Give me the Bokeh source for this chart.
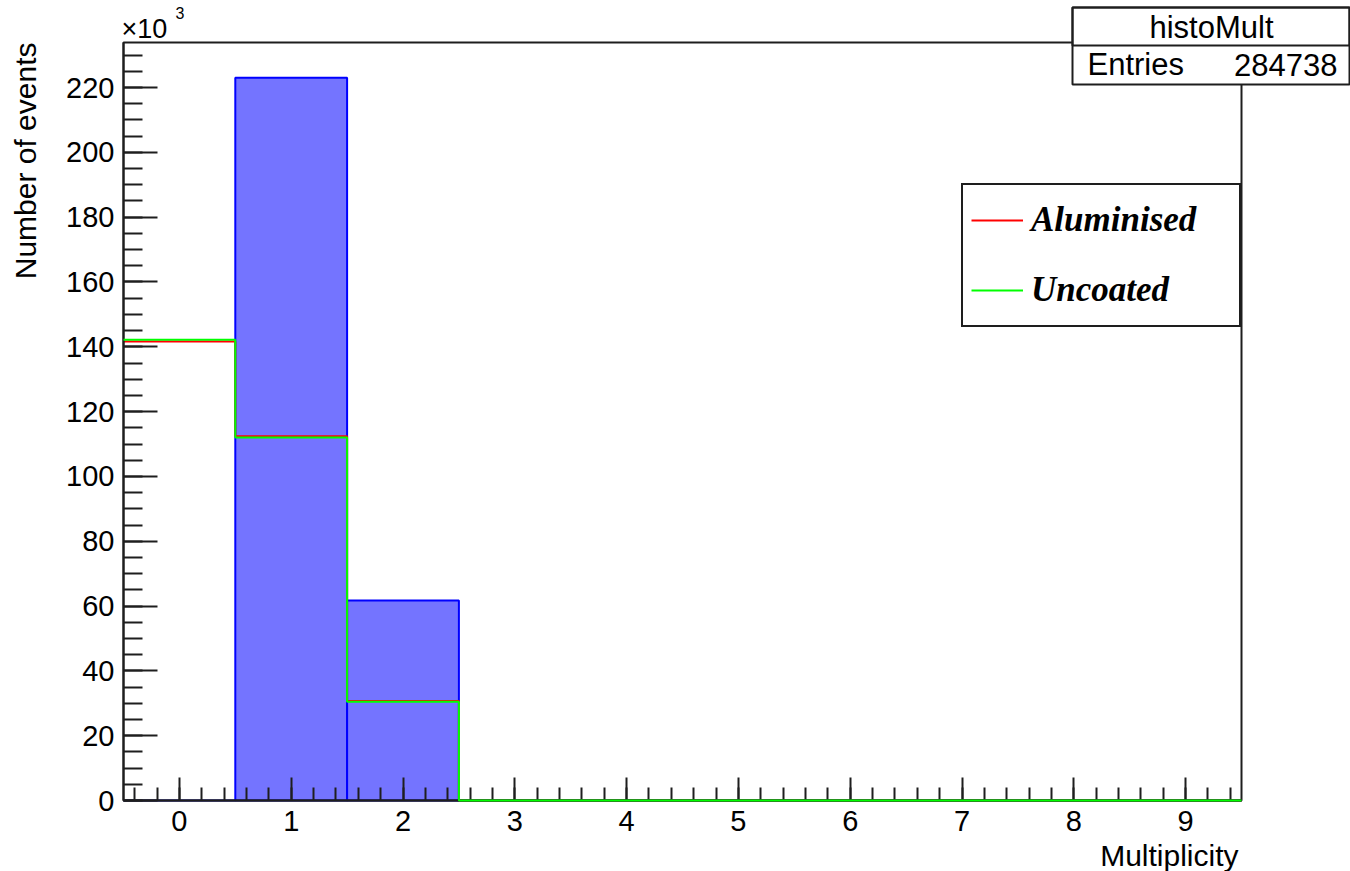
from math import pi

from bokeh.plotting import figure
from bokeh.models import (Range1d, SingleIntervalTicker, Label, BoxAnnotation,
                          Legend, LegendItem, LinearAxis)
from bokeh.embed import file_html
from bokeh.resources import INLINE

# ---- data -------------------------------------------------------------
bin_centres = [0, 1, 2, 3, 4, 5, 6, 7, 8, 9]
hist_mult = [0, 223000, 61738, 0, 0, 0, 0, 0, 0, 0]
aluminised = [141600, 112400, 30700, 0, 0, 0, 0, 0, 0, 0]
uncoated = [142200, 112000, 30500, 0, 0, 0, 0, 0, 0, 0]
entries = 284738
y_ticks = [0, 20000, 40000, 60000, 80000, 100000, 120000, 140000,
           160000, 180000, 200000, 220000]
y_tick_labels = ["0", "20", "40", "60", "80", "100", "120", "140",
                 "160", "180", "200", "220"]
y_max = 233900

# ---- geometry -----------------------------------------------------------
W, H = 1350, 871
FL, FR, FT, FB = 123, 1241, 42, 800          # histogram frame, in pixels
SANS = "Liberation Sans"
SERIF = "Liberation Serif"
INK = "#1e1e1e"

edges = [c - 0.5 for c in bin_centres] + [bin_centres[-1] + 0.5]
x_lo, x_hi = edges[0], edges[-1]

# the plotting area covers the whole canvas; ranges are widened so that
# the histogram frame lands on FL..FR / FT..FB
dx = (x_hi - x_lo) / (FR - FL)
dy = y_max / (FB - FT)
x_range = Range1d(x_lo - FL * dx, x_hi + (W - FR) * dx)
y_range = Range1d(-(H - FB) * dy, y_max + FT * dy)


def step_path(counts):
    xs, ys = [], []
    for i, v in enumerate(counts):
        xs += [edges[i], edges[i + 1]]
        ys += [v, v]
    return xs, ys


p = figure(width=W, height=H, x_range=x_range, y_range=y_range,
           output_backend="svg", toolbar_location=None,
           x_axis_location=None, y_axis_location=None,
           min_border=0, min_border_left=0, min_border_right=0,
           min_border_top=0, min_border_bottom=0)
p.title.visible = False
p.extra_x_ranges = {"px": Range1d(0, W)}
p.extra_y_ranges = {"px": Range1d(H, 0)}

p.xgrid.visible = False
p.ygrid.visible = False
p.outline_line_color = None
p.background_fill_color = "white"
p.border_fill_color = "white"

# ---- histograms -----------------------------------------------------------
p.quad(left=edges[:-1], right=edges[1:], top=hist_mult, bottom=0,
       fill_color="#7474ff", line_color="#0000ff", line_width=2)

ax, ay = step_path(aluminised)
ux, uy = step_path(uncoated)
r_al = p.line(ax, ay, line_color="#ff0000", line_width=2)
r_un = p.line(ux, uy, line_color="#00ff00", line_width=2)

# frame box
p.add_layout(BoxAnnotation(left=x_lo, right=x_hi, bottom=0, top=y_max,
                           fill_alpha=0.0, line_color=INK, line_alpha=1.0,
                           line_width=2))

# ---- axes ----------------------------------------------------------------
xa = LinearAxis(fixed_location=0, bounds=(x_lo, x_hi),
                ticker=SingleIntervalTicker(interval=1, num_minor_ticks=5))
xa.major_tick_in = 23
xa.minor_tick_in = 13
xa.major_label_standoff = 10

ya = LinearAxis(fixed_location=x_lo, bounds=(0, y_max),
                ticker=SingleIntervalTicker(interval=20000, num_minor_ticks=4))
ya.major_label_overrides = dict(zip(y_ticks, y_tick_labels))
ya.major_tick_in = 34
ya.minor_tick_in = 19
ya.major_label_standoff = 9

for a in (xa, ya):
    a.major_tick_out = 0
    a.minor_tick_out = 0
    a.axis_line_color = INK
    a.axis_line_width = 2
    a.major_tick_line_color = INK
    a.minor_tick_line_color = INK
    a.major_tick_line_width = 2
    a.minor_tick_line_width = 2
    a.major_label_text_font = SANS
    a.major_label_text_font_size = "29px"
    a.major_label_text_color = "black"

p.add_layout(xa, "below")
p.add_layout(ya, "left")

# the green step runs along the zero line on top of the axis
r_un.level = "overlay"

# ---- legend --------------------------------------------------------------
legend = Legend(items=[LegendItem(label="Aluminised", renderers=[r_al]),
                       LegendItem(label="Uncoated", renderers=[r_un])],
                location=(961, H - 327), margin=0, padding=8, spacing=16,
                glyph_width=52, glyph_height=54, label_height=54,
                label_width=200, label_standoff=8,
                label_text_font=SERIF, label_text_font_style="bold italic",
                label_text_font_size="35px", label_text_color="black",
                border_line_color=INK, border_line_width=2,
                border_line_alpha=1.0,
                background_fill_color="white", background_fill_alpha=1.0)
p.add_layout(legend)


# ---- texts and stats box ------------------------------------------------
def px_label(text, x, y, size, align="left", baseline="middle",
             angle=0.0, font=SANS, style="normal"):
    p.add_layout(Label(x=x, y=y, text=text, x_range_name="px",
                       y_range_name="px", text_font=font,
                       text_font_size=size, text_font_style=style,
                       text_align=align, text_baseline=baseline,
                       angle=angle, text_color="black"))


def px_box(left, right, top, bottom, fill=True):
    p.add_layout(BoxAnnotation(left=left, right=right, top=top,
                               bottom=bottom, x_range_name="px",
                               y_range_name="px", fill_color="white",
                               fill_alpha=1.0 if fill else 0.0,
                               line_color=INK, line_alpha=1.0,
                               line_width=2))


px_label("Number of events", 25, FT, "30px", align="right", angle=pi / 2)
px_label("Multiplicity", 1238, 855, "30px", align="right")
px_label("\u00d710", 121, 28, "27px")
px_label("3", 175, 12, "16px")

px_box(1072, 1349, 7, 84)
px_box(1072, 1349, 7, 45, fill=False)
px_label("histoMult", 1211, 27, "31px", align="center")
px_label("Entries", 1087, 64, "31px")
px_label(str(entries), 1337, 64, "31px", align="right")

open("out.html", "w").write(file_html(p, INLINE))
